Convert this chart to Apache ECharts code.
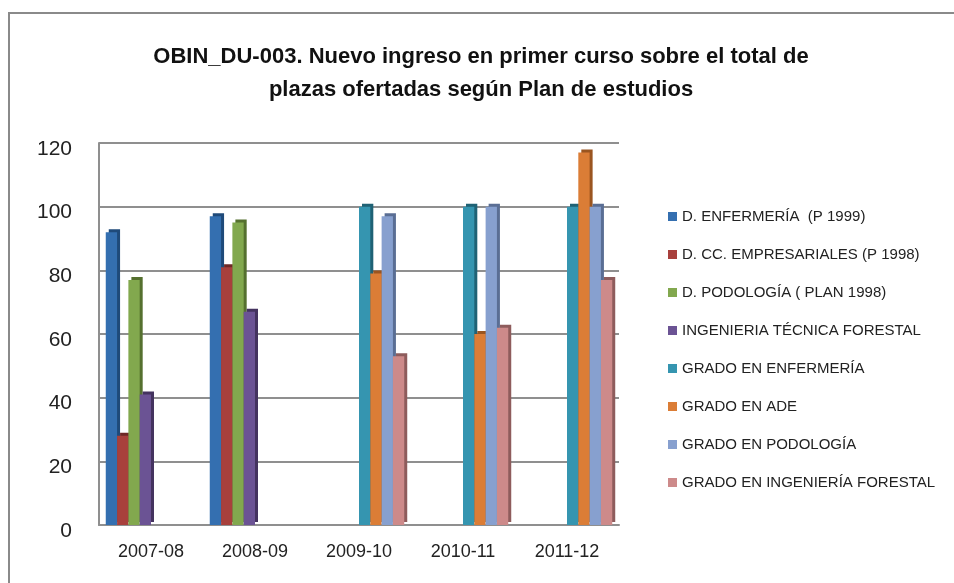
<!DOCTYPE html>
<html>
<head>
<meta charset="utf-8">
<title>OBIN_DU-003</title>
<script src="https://cdn.jsdelivr.net/npm/echarts@6/dist/echarts.min.js"></script>
<style>
  html, body { margin: 0; padding: 0; background: #fff; }
  #chart { width: 954px; height: 583px; }
</style>
</head>
<body>
<div id="chart"></div>
<script>
// data
const categories = ['2007-08', '2008-09', '2009-10', '2010-11', '2011-12'];
const seriesNames = [
    'D. ENFERMERÍA  (P 1999)',
    'D. CC. EMPRESARIALES (P 1998)',
    'D. PODOLOGÍA ( PLAN 1998)',
    'INGENIERIA TÉCNICA FORESTAL',
    'GRADO EN ENFERMERÍA',
    'GRADO EN ADE',
    'GRADO EN PODOLOGÍA',
    'GRADO EN INGENIERÍA FORESTAL'
];
const dEnfermeria = [92, 97, null, null, null];
const dEmpresariales = [28, 81, null, null, null];
const dPodologia = [77, 95, null, null, null];
const ingTecForestal = [41, 67, null, null, null];
const gradoEnfermeria = [null, null, 100, 100, 100];
const gradoAde = [null, null, 79, 60, 117];
const gradoPodologia = [null, null, 97, 100, 100];
const gradoIngForestal = [null, null, 53, 62, 77];
const yTicks = [0, 20, 40, 60, 80, 100, 120];

const values = [dEnfermeria, dEmpresariales, dPodologia, ingTecForestal,
    gradoEnfermeria, gradoAde, gradoPodologia, gradoIngForestal];
const colors = ['#346FB0', '#A8403C', '#82A84E', '#6B5394', '#3595B0', '#DB7D36', '#87A0CF', '#CD8A8A'];
const sideColors = ['#1F4A7A', '#6E2826', '#55702F', '#44335F', '#1F6275', '#9A5520', '#5A6E94', '#8E5C5C'];

const chart = echarts.init(document.getElementById('chart'));

chart.setOption({
    animation: false,
    backgroundColor: '#fff',
    textStyle: { fontFamily: 'Liberation Sans' },
    title: {
        text: 'OBIN_DU-003. Nuevo ingreso en primer curso sobre el total de\nplazas ofertadas según Plan de estudios',
        left: 476,
        textAlign: 'center',
        top: 35,
        textStyle: {
            fontFamily: 'Liberation Sans',
            fontSize: 22,
            fontWeight: 'bold',
            color: '#111',
            lineHeight: 33
        }
    },
    legend: {
        orient: 'vertical',
        left: 663,
        top: 203,
        itemWidth: 9,
        itemHeight: 9,
        itemGap: 21,
        data: seriesNames,
        textStyle: { fontSize: 15, color: '#222', lineHeight: 17 },
        icon: 'rect'
    },
    grid: {
        left: 99,
        right: 335,
        top: 143,
        bottom: 58
    },
    xAxis: {
        type: 'category',
        data: categories,
        axisLine: { lineStyle: { color: '#8f8f8f', width: 2 } },
        axisTick: { show: false },
        axisLabel: { fontSize: 18, color: '#222', margin: 18 }
    },
    yAxis: {
        type: 'value',
        min: yTicks[0],
        max: yTicks[yTicks.length - 1],
        interval: 20,
        axisLine: { show: true, lineStyle: { color: '#8f8f8f', width: 2 } },
        axisTick: { show: false },
        axisLabel: { fontSize: 21, color: '#222', margin: 27, verticalAlign: 'top', lineHeight: 12 },
        splitLine: { lineStyle: { color: '#8f8f8f', width: 2 } }
    },
    series: seriesNames.map((name, i) => ({
        name: name,
        type: 'bar',
        data: values[i],
        barGap: '0%',
        barCategoryGap: '13%',
        itemStyle: {
            color: colors[i],
            shadowColor: sideColors[i],
            shadowOffsetX: 3,
            shadowOffsetY: -3,
            shadowBlur: 0
        }
    })),
    graphic: [
        {
            type: 'line',
            shape: { x1: 8, y1: 13, x2: 954, y2: 13 },
            style: { stroke: '#8a8a8a', lineWidth: 2 }
        },
        {
            type: 'line',
            shape: { x1: 9, y1: 13, x2: 9, y2: 583 },
            style: { stroke: '#8a8a8a', lineWidth: 2 }
        }
    ]
});

window.addEventListener('resize', chart.resize);
</script>
</body>
</html>
